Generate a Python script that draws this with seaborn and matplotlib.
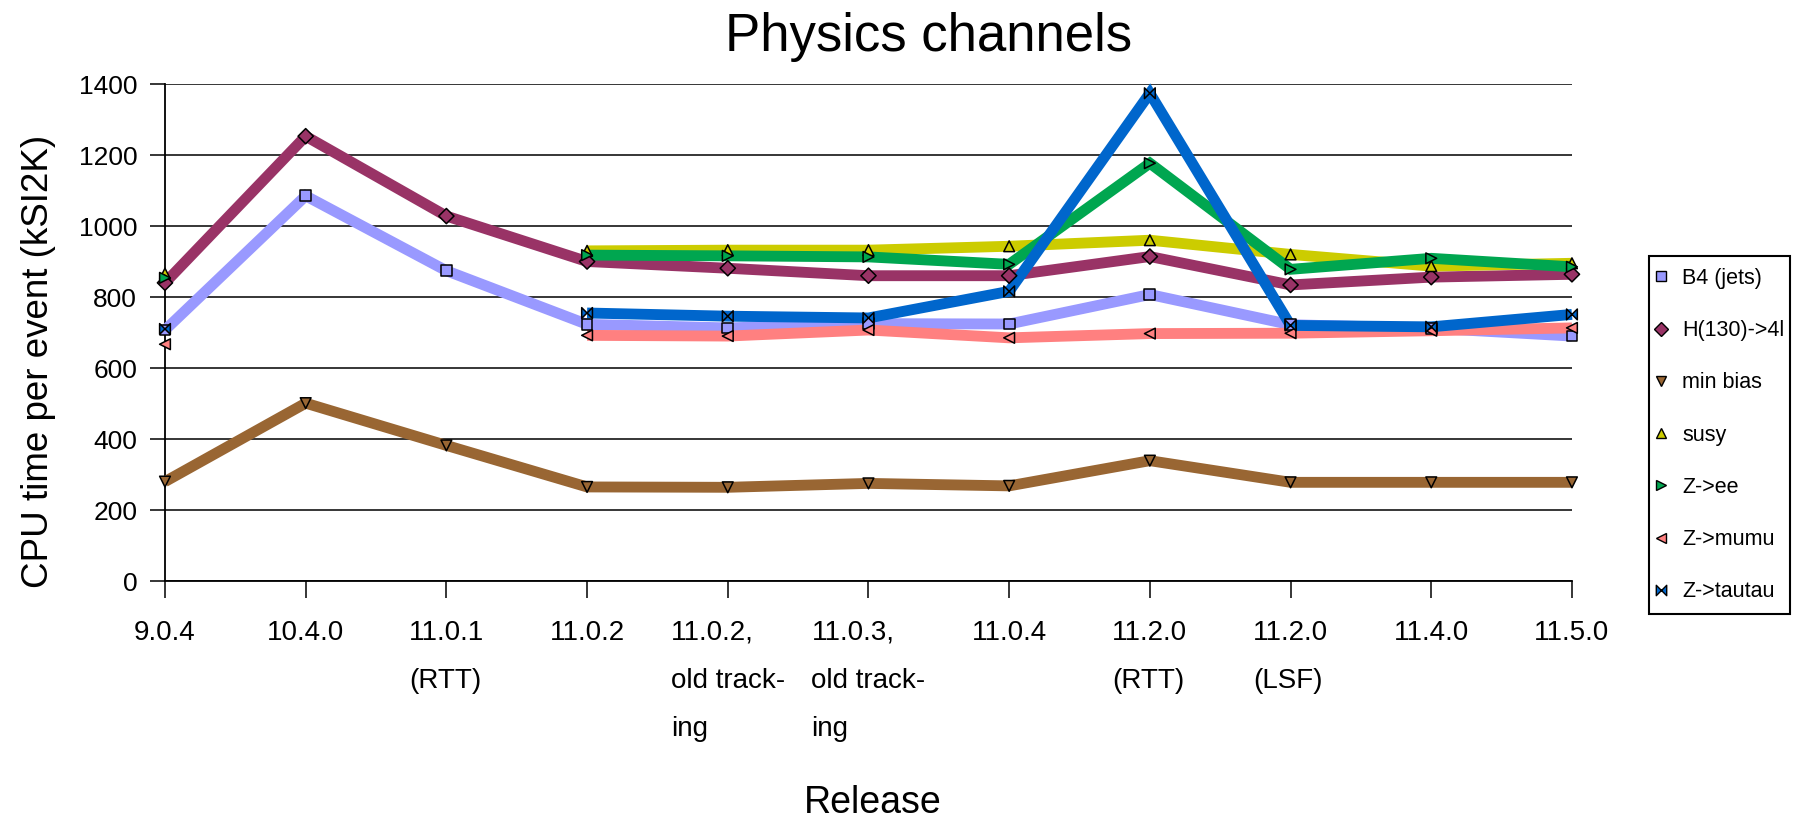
import numpy as np
import pandas as pd
import matplotlib
matplotlib.use("Agg")
import matplotlib.pyplot as plt
from matplotlib.path import Path
from matplotlib.lines import Line2D
from matplotlib.patches import Rectangle
import seaborn as sns

# Releases (x axis) and CPU time per event in kSI2K for each physics channel
releases = ["9.0.4", "10.4.0", "11.0.1\n(RTT)", "11.0.2",
            "11.0.2,\nold track-\ning", "11.0.3,\nold track-\ning",
            "11.0.4", "11.2.0\n(RTT)", "11.2.0\n(LSF)", "11.4.0", "11.5.0"]

channels = ["B4 (jets)", "H(130)->4l", "min bias", "susy",
            "Z->ee", "Z->mumu", "Z->tautau"]

b4_jets   = [707, 1085, 874, 723, 713, 725, 724, 807, 722, 712, 690]
h130_4l   = [840, 1253, 1028, 900, 881, 860, 860, 914, 834, 856, 864]
min_bias  = [280, 501, 382, 265, 264, 275, 268, 339, 278, 278, 278]
susy      = [866, np.nan, np.nan, 930, 932, 932, 943, 960, 920, 887, 895]
z_ee      = [854, np.nan, np.nan, 918, 916, 913, 892, 1177, 878, 909, 885]
z_mumu    = [667, np.nan, np.nan, 692, 690, 707, 685, 697, 698, 705, 713]
z_tautau  = [710, np.nan, np.nan, 755, 746, 741, 816, 1374, 720, 716, 751]

series = [b4_jets, h130_4l, min_bias, susy, z_ee, z_mumu, z_tautau]

colors = ["#9999FF", "#993366", "#996633", "#CCCC00",
          "#00A650", "#FF8080", "#0066CC"]

# bow-tie marker for Z->tautau
bowtie = Path([(-1, -1), (-1, 1), (1, -1), (1, 1), (-1, -1)],
              [Path.MOVETO, Path.LINETO, Path.LINETO, Path.LINETO,
               Path.CLOSEPOLY])
marker_shapes = ["s", "D", "v", "^", ">", "<", bowtie]

palette = dict(zip(channels, colors))
markers = dict(zip(channels, marker_shapes))

# long-form table; missing releases split a channel into separate segments
rows = []
for name, vals in zip(channels, series):
    seg = 0
    prev_nan = False
    for i, v in enumerate(vals):
        if np.isnan(v):
            prev_nan = True
            continue
        if prev_nan:
            seg += 1
            prev_nan = False
        rows.append({"pos": i, "cpu": v, "channel": name,
                     "segment": f"{name}#{seg}"})
df = pd.DataFrame(rows)

sns.set_style("white")
plt.rcParams["font.family"] = ["Liberation Sans", "DejaVu Sans"]
plt.rcParams["text.color"] = "black"
plt.rcParams["xtick.color"] = "black"
plt.rcParams["ytick.color"] = "black"
plt.rcParams["axes.labelcolor"] = "black"

fig = plt.figure(figsize=(18.11, 8.18), dpi=100)
ax = fig.add_axes([0.0911, 0.2897, 0.7769, 0.6076])

sns.lineplot(data=df, x="pos", y="cpu", hue="channel", units="segment",
             estimator=None, sort=False, palette=palette,
             hue_order=channels, linewidth=7.8, legend=False, ax=ax,
             clip_on=False, solid_joinstyle="miter", solid_capstyle="butt",
             zorder=3)

sns.scatterplot(data=df, x="pos", y="cpu", hue="channel", style="channel",
                hue_order=channels, style_order=channels, palette=palette,
                markers=markers, s=60, edgecolor="black", linewidth=1.1,
                legend=False, ax=ax, clip_on=False, zorder=5)

ax.set_xlim(0, len(releases) - 1)
ax.set_ylim(0, 1400)
ax.set_yticks(np.arange(0, 1401, 200))
ax.set_xticks(range(len(releases)))
ax.set_xticklabels(releases)
for t in ax.get_xticklabels():
    t.set_multialignment("left")
    t.set_linespacing(2.1)

ax.set_xlabel("")
ax.set_ylabel("")
ax.grid(axis="y", color="black", linewidth=1.1)
ax.grid(axis="x", visible=False)
sns.despine(ax=ax, top=True, right=True)
for sp in ("left", "bottom"):
    ax.spines[sp].set_color("black")
    ax.spines[sp].set_linewidth(1.3)

ax.tick_params(axis="y", direction="out", length=11, width=1.1,
               color="black", labelsize=19, pad=9, left=True)
ax.tick_params(axis="x", direction="out", length=12, width=1.1,
               color="black", labelsize=20, pad=16, bottom=True)

fig.text(0.513, 0.955, "Physics channels", ha="center", va="center",
         fontsize=38)
fig.text(0.021, 0.558, "CPU time per event (kSI2K)", rotation=90,
         ha="center", va="center", fontsize=26.5)
fig.text(0.482, 0.0183, "Release", ha="center", va="center", fontsize=27)

# legend: framed box on the right, markers only
W, H = 1811.0, 818.0
box_l, box_r, box_t, box_b = 1649, 1790, 256, 614
fig.patches.append(Rectangle((box_l / W, 1 - box_b / H),
                             (box_r - box_l) / W, (box_b - box_t) / H,
                             transform=fig.transFigure, fill=False,
                             edgecolor="black", linewidth=1.5))

handles = [Line2D([], [], linestyle="none", marker=m, markersize=7.5,
                  markerfacecolor=c, markeredgecolor="black",
                  markeredgewidth=1.0)
           for m, c in zip(marker_shapes, colors)]
leg = fig.legend(handles, channels, loc="upper left",
                 bbox_to_anchor=(1652 / W, 1 - 268 / H), fontsize=15.5,
                 frameon=False, borderpad=0, labelspacing=1.45,
                 handlelength=0.8, handletextpad=0.6, borderaxespad=0)

fig.savefig("out.png", dpi=100)
